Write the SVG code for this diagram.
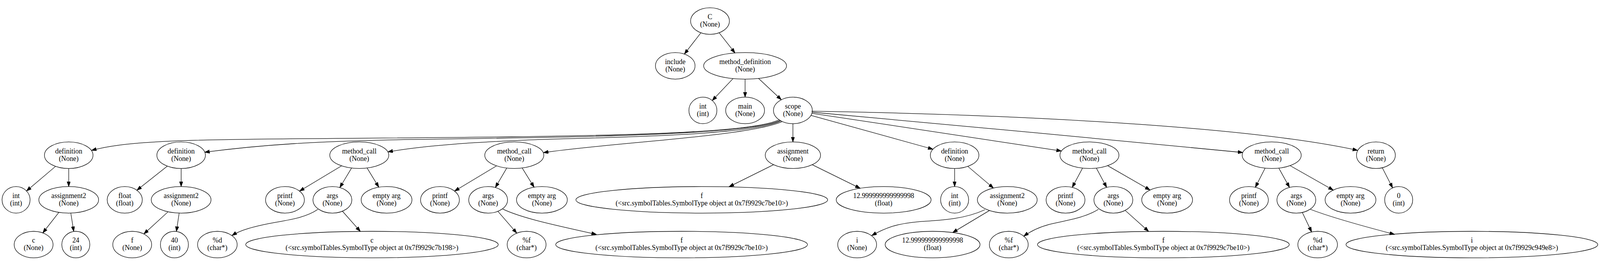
<svg xmlns="http://www.w3.org/2000/svg" width="4284" height="681" viewBox="0 0 4284 681">
<style>
svg{width:100vw;height:100vh}
.n ellipse{fill:none;stroke:#000;stroke-width:1.33}
.n text{font-family:"Liberation Serif","Times New Roman",serif;font-size:18.67px;text-anchor:middle;fill:#000}
.e path{fill:none;stroke:#000;stroke-width:1.33;marker-end:url(#arr)}
</style>
<defs>
<marker id="arr" markerUnits="userSpaceOnUse" markerWidth="14" markerHeight="10" refX="13.3" refY="4.67" orient="auto">
<path d="M0,0 L13.3,4.67 L0,9.33 z" fill="#000" stroke="#000" stroke-width="1"/>
</marker>
</defs>
<rect width="4284" height="681" fill="#fff"/>
<g id="connectors" class="e">
<path d="M1876.7,72.1 L1832.4,129.2"/>
<path d="M1925.5,72 L1968,126.3"/>
<path d="M1962.8,194.7 L1907,253.6"/>
<path d="M1995,196.2 L1995,244.5"/>
<path d="M2031,194.3 L2092,251.4"/>
<path d="M2087,305 C2000,345 1600,350 900,355 C500,358 350,360 245,387"/>
<path d="M2089,307 C2000,348 1500,352 1100,358 C850,362 700,372 548,392"/>
<path d="M2091,308 C2000,350 1600,352 1420,359 C1280,365 1150,372 1038.5,391"/>
<path d="M2094,310 C2000,350 1650,365 1455,393"/>
<path d="M2123,315.5 L2123,364.5"/>
<path d="M2171.2,293.4 L2498,383.9"/>
<path d="M2173.8,287.7 L2842,388.7"/>
<path d="M2174.5,284.8 C2550,320 2950,355 3327.7,392.8"/>
<path d="M2173,282 C2650,290 3320,318 3635,387"/>
<path d="M148.8,429.8 L70.9,495.8"/>
<path d="M184,435.5 L184,484"/>
<path d="M157.7,553 L114.6,608"/>
<path d="M189.6,554.9 L197.4,604.2"/>
<path d="M448.1,429.2 L366.5,493.8"/>
<path d="M485,435.5 L485,484"/>
<path d="M450.1,551.4 L385.1,610.9"/>
<path d="M479.7,554.9 L472.3,604.2"/>
<path d="M914.7,428.4 L802,496.1"/>
<path d="M941.4,434.3 L909.8,486.7"/>
<path d="M982.9,434.3 L1014.3,485.7"/>
<path d="M851,545 C815,570 760,575 720,583 C680,591 645,600 621,615"/>
<path d="M916.9,549.9 L964.8,604"/>
<path d="M1329.7,428.4 L1217,496.1"/>
<path d="M1356.9,434.3 L1326.3,486.5"/>
<path d="M1398.2,434.3 L1430.1,485.7"/>
<path d="M1333,550 L1383.7,608.7"/>
<path d="M1346,544 C1400,570 1500,590 1597,612"/>
<path d="M2071.2,425.4 L1952,484.5"/>
<path d="M2174.6,425.4 L2303.2,488.6"/>
<path d="M2556,435.5 L2556,484"/>
<path d="M2591.2,429.8 L2659.9,488"/>
<path d="M2637,546 C2580,572 2520,574 2460,578 C2400,583 2370,595 2334,615"/>
<path d="M2649.4,548 L2550.7,607.1"/>
<path d="M2898.5,434.5 L2870.9,486.2"/>
<path d="M2935.5,434.5 L2963.1,486.2"/>
<path d="M2965.7,428 L3079.3,493.2"/>
<path d="M2941,545 C2900,570 2850,575 2810,585 C2780,593 2760,603 2741,617"/>
<path d="M3012.6,547.7 L3075.5,604"/>
<path d="M3387.3,434.6 L3361.1,486"/>
<path d="M3424,434.5 L3452.7,486.3"/>
<path d="M3454.1,427.8 L3569.9,493.4"/>
<path d="M3487,553.3 L3511.9,605.5"/>
<path d="M3509,545 C3560,565 3650,590 3734,612"/>
<path d="M3701.1,433.5 L3728.7,487.5"/>
</g>
<g id="n_C" class="n"><ellipse cx="1901" cy="40.7" rx="52" ry="35.5"/><text x="1901" y="35.6">C</text><text x="1901" y="55.6">(None)</text></g>
<g id="n_include" class="n"><ellipse cx="1808" cy="160.7" rx="53" ry="35.5"/><text x="1808" y="155.6">include</text><text x="1808" y="175.6">(None)</text></g>
<g id="n_method_definition" class="n"><ellipse cx="1995" cy="160.7" rx="111" ry="35.5"/><text x="1995" y="155.6">method_definition</text><text x="1995" y="175.6">(None)</text></g>
<g id="n_int_ret" class="n"><ellipse cx="1882" cy="280" rx="37.5" ry="35.5"/><text x="1882" y="274.9">int</text><text x="1882" y="294.9">(int)</text></g>
<g id="n_main" class="n"><ellipse cx="1995" cy="280" rx="52" ry="35.5"/><text x="1995" y="274.9">main</text><text x="1995" y="294.9">(None)</text></g>
<g id="n_scope" class="n"><ellipse cx="2123" cy="280" rx="52" ry="35.5"/><text x="2123" y="274.9">scope</text><text x="2123" y="294.9">(None)</text></g>
<g id="n_definition_1" class="n"><ellipse cx="184" cy="400" rx="65" ry="35.5"/><text x="184" y="394.9">definition</text><text x="184" y="414.9">(None)</text></g>
<g id="n_definition_2" class="n"><ellipse cx="485" cy="400" rx="65" ry="35.5"/><text x="485" y="394.9">definition</text><text x="485" y="414.9">(None)</text></g>
<g id="n_method_call_1" class="n"><ellipse cx="962" cy="400" rx="79" ry="35.5"/><text x="962" y="394.9">method_call</text><text x="962" y="414.9">(None)</text></g>
<g id="n_method_call_2" class="n"><ellipse cx="1377" cy="400" rx="79" ry="35.5"/><text x="1377" y="394.9">method_call</text><text x="1377" y="414.9">(None)</text></g>
<g id="n_assignment" class="n"><ellipse cx="2123" cy="400" rx="74" ry="35.5"/><text x="2123" y="394.9">assignment</text><text x="2123" y="414.9">(None)</text></g>
<g id="n_definition_3" class="n"><ellipse cx="2556" cy="400" rx="65" ry="35.5"/><text x="2556" y="394.9">definition</text><text x="2556" y="414.9">(None)</text></g>
<g id="n_method_call_3" class="n"><ellipse cx="2917" cy="400" rx="79" ry="35.5"/><text x="2917" y="394.9">method_call</text><text x="2917" y="414.9">(None)</text></g>
<g id="n_method_call_4" class="n"><ellipse cx="3405" cy="400" rx="79" ry="35.5"/><text x="3405" y="394.9">method_call</text><text x="3405" y="414.9">(None)</text></g>
<g id="n_return" class="n"><ellipse cx="3684" cy="400" rx="52" ry="35.5"/><text x="3684" y="394.9">return</text><text x="3684" y="414.9">(None)</text></g>
<g id="n_int_1" class="n"><ellipse cx="43" cy="519.5" rx="37.5" ry="35.5"/><text x="43" y="514.4">int</text><text x="43" y="534.4">(int)</text></g>
<g id="n_assignment2_1" class="n"><ellipse cx="184" cy="519.5" rx="80" ry="35.5"/><text x="184" y="514.4">assignment2</text><text x="184" y="534.4">(None)</text></g>
<g id="n_float" class="n"><ellipse cx="334" cy="519.5" rx="47" ry="35.5"/><text x="334" y="514.4">float</text><text x="334" y="534.4">(float)</text></g>
<g id="n_assignment2_2" class="n"><ellipse cx="485" cy="519.5" rx="80" ry="35.5"/><text x="485" y="514.4">assignment2</text><text x="485" y="534.4">(None)</text></g>
<g id="n_printf_1" class="n"><ellipse cx="763" cy="519.5" rx="52" ry="35.5"/><text x="763" y="514.4">printf</text><text x="763" y="534.4">(None)</text></g>
<g id="n_args_1" class="n"><ellipse cx="890" cy="519.5" rx="52" ry="35.5"/><text x="890" y="514.4">args</text><text x="890" y="534.4">(None)</text></g>
<g id="n_empty_1" class="n"><ellipse cx="1035" cy="519.5" rx="68" ry="35.5"/><text x="1035" y="514.4">empty arg</text><text x="1035" y="534.4">(None)</text></g>
<g id="n_printf_2" class="n"><ellipse cx="1178" cy="519.5" rx="52" ry="35.5"/><text x="1178" y="514.4">printf</text><text x="1178" y="534.4">(None)</text></g>
<g id="n_args_2" class="n"><ellipse cx="1307" cy="519.5" rx="52" ry="35.5"/><text x="1307" y="514.4">args</text><text x="1307" y="534.4">(None)</text></g>
<g id="n_empty_2" class="n"><ellipse cx="1451" cy="519.5" rx="68" ry="35.5"/><text x="1451" y="514.4">empty arg</text><text x="1451" y="534.4">(None)</text></g>
<g id="n_f_sym_1" class="n"><ellipse cx="1879" cy="519.5" rx="337" ry="35.5"/><text x="1879" y="514.4">f</text><text x="1879" y="534.4">(&lt;src.symbolTables.SymbolType object at 0x7f9929c7be10&gt;)</text></g>
<g id="n_float_val_1" class="n"><ellipse cx="2366" cy="519.5" rx="127" ry="35.5"/><text x="2366" y="514.4">12.999999999999998</text><text x="2366" y="534.4">(float)</text></g>
<g id="n_int_3" class="n"><ellipse cx="2556" cy="519.5" rx="37.5" ry="35.5"/><text x="2556" y="514.4">int</text><text x="2556" y="534.4">(int)</text></g>
<g id="n_assignment2_3" class="n"><ellipse cx="2697" cy="519.5" rx="80" ry="35.5"/><text x="2697" y="514.4">assignment2</text><text x="2697" y="534.4">(None)</text></g>
<g id="n_printf_3" class="n"><ellipse cx="2853" cy="519.5" rx="52" ry="35.5"/><text x="2853" y="514.4">printf</text><text x="2853" y="534.4">(None)</text></g>
<g id="n_args_3" class="n"><ellipse cx="2981" cy="519.5" rx="52" ry="35.5"/><text x="2981" y="514.4">args</text><text x="2981" y="534.4">(None)</text></g>
<g id="n_empty_3" class="n"><ellipse cx="3125" cy="519.5" rx="68" ry="35.5"/><text x="3125" y="514.4">empty arg</text><text x="3125" y="534.4">(None)</text></g>
<g id="n_printf_4" class="n"><ellipse cx="3344" cy="519.5" rx="52" ry="35.5"/><text x="3344" y="514.4">printf</text><text x="3344" y="534.4">(None)</text></g>
<g id="n_args_4" class="n"><ellipse cx="3471" cy="519.5" rx="52" ry="35.5"/><text x="3471" y="514.4">args</text><text x="3471" y="534.4">(None)</text></g>
<g id="n_empty_4" class="n"><ellipse cx="3616" cy="519.5" rx="68" ry="35.5"/><text x="3616" y="514.4">empty arg</text><text x="3616" y="534.4">(None)</text></g>
<g id="n_zero" class="n"><ellipse cx="3745" cy="519.5" rx="37.5" ry="35.5"/><text x="3745" y="514.4">0</text><text x="3745" y="534.4">(int)</text></g>
<g id="n_c" class="n"><ellipse cx="90" cy="639.3" rx="52" ry="35.5"/><text x="90" y="634.2">c</text><text x="90" y="654.2">(None)</text></g>
<g id="n_24" class="n"><ellipse cx="203" cy="639.3" rx="37.5" ry="35.5"/><text x="203" y="634.2">24</text><text x="203" y="654.2">(int)</text></g>
<g id="n_f" class="n"><ellipse cx="354" cy="639.3" rx="52" ry="35.5"/><text x="354" y="634.2">f</text><text x="354" y="654.2">(None)</text></g>
<g id="n_40" class="n"><ellipse cx="467" cy="639.3" rx="37.5" ry="35.5"/><text x="467" y="634.2">40</text><text x="467" y="654.2">(int)</text></g>
<g id="n_fmt_d_1" class="n"><ellipse cx="582" cy="639.3" rx="53" ry="35.5"/><text x="582" y="634.2">%d</text><text x="582" y="654.2">(char*)</text></g>
<g id="n_c_sym" class="n"><ellipse cx="996" cy="639.3" rx="338" ry="35.5"/><text x="996" y="634.2">c</text><text x="996" y="654.2">(&lt;src.symbolTables.SymbolType object at 0x7f9929c7b198&gt;)</text></g>
<g id="n_fmt_f_1" class="n"><ellipse cx="1410" cy="639.3" rx="52" ry="35.5"/><text x="1410" y="634.2">%f</text><text x="1410" y="654.2">(char*)</text></g>
<g id="n_f_sym_2" class="n"><ellipse cx="1825" cy="639.3" rx="337" ry="35.5"/><text x="1825" y="634.2">f</text><text x="1825" y="654.2">(&lt;src.symbolTables.SymbolType object at 0x7f9929c7be10&gt;)</text></g>
<g id="n_i" class="n"><ellipse cx="2295" cy="639.3" rx="52" ry="35.5"/><text x="2295" y="634.2">i</text><text x="2295" y="654.2">(None)</text></g>
<g id="n_float_val_2" class="n"><ellipse cx="2497" cy="639.3" rx="127" ry="35.5"/><text x="2497" y="634.2">12.999999999999998</text><text x="2497" y="654.2">(float)</text></g>
<g id="n_fmt_f_2" class="n"><ellipse cx="2701" cy="639.3" rx="52" ry="35.5"/><text x="2701" y="634.2">%f</text><text x="2701" y="654.2">(char*)</text></g>
<g id="n_f_sym_3" class="n"><ellipse cx="3115" cy="639.3" rx="337" ry="35.5"/><text x="3115" y="634.2">f</text><text x="3115" y="654.2">(&lt;src.symbolTables.SymbolType object at 0x7f9929c7be10&gt;)</text></g>
<g id="n_fmt_d_2" class="n"><ellipse cx="3528" cy="639.3" rx="53" ry="35.5"/><text x="3528" y="634.2">%d</text><text x="3528" y="654.2">(char*)</text></g>
<g id="n_i_sym" class="n"><ellipse cx="3941" cy="639.3" rx="337" ry="35.5"/><text x="3941" y="634.2">i</text><text x="3941" y="654.2">(&lt;src.symbolTables.SymbolType object at 0x7f9929c949e8&gt;)</text></g>
</svg>
